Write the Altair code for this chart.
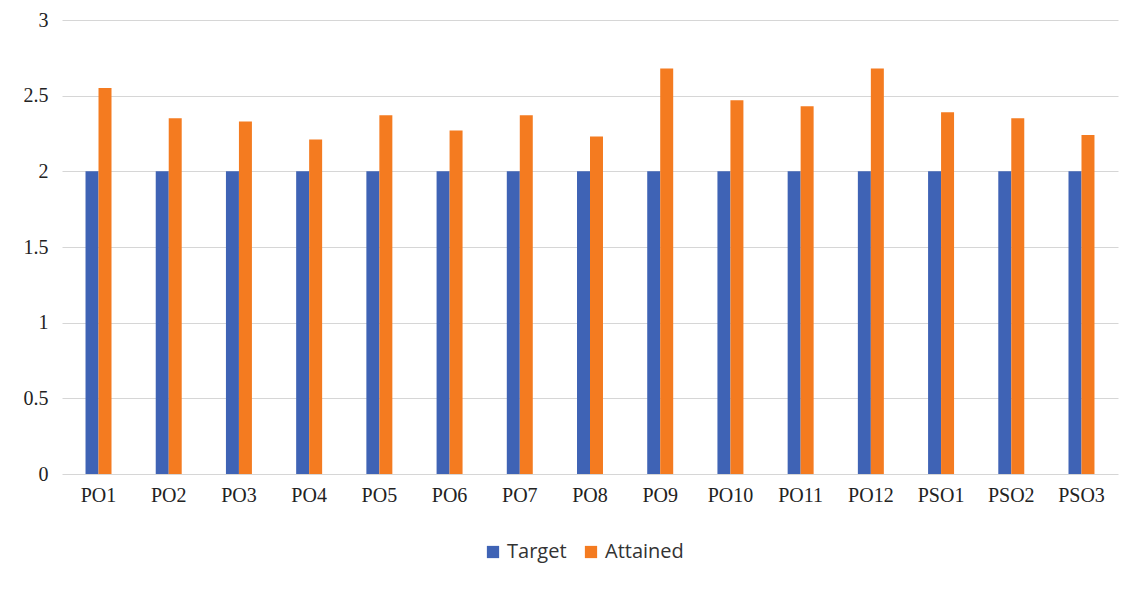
import altair as alt
import pandas as pd

categories = ["PO1", "PO2", "PO3", "PO4", "PO5", "PO6", "PO7", "PO8", "PO9",
              "PO10", "PO11", "PO12", "PSO1", "PSO2", "PSO3"]
target = [2.0] * 15
attained = [2.55, 2.35, 2.33, 2.21, 2.37, 2.27, 2.37, 2.23, 2.68, 2.47, 2.43, 2.68, 2.39, 2.35, 2.24]
series = ["Target", "Attained"]
colors = ["#3F63B5", "#F47B20"]

rows = []
for c, t, a in zip(categories, target, attained):
    rows.append({"cat": c, "series": "Target", "value": t})
    rows.append({"cat": c, "series": "Attained", "value": a})
df = pd.DataFrame(rows)

chart = alt.Chart(df).mark_bar().encode(
    x=alt.X("cat:N", sort=categories, title=None,
            scale=alt.Scale(paddingInner=0.63, paddingOuter=0.335),
            axis=alt.Axis(labelAngle=0, labelFont="Liberation Serif", labelFontSize=20,
                          labelColor="#222222", ticks=False, domain=False, labelPadding=11)),
    xOffset=alt.XOffset("series:N", sort=series),
    y=alt.Y("value:Q", title=None,
            scale=alt.Scale(domain=[0, 3]),
            axis=alt.Axis(values=[0, 0.5, 1, 1.5, 2, 2.5, 3], format="~g",
                          labelFont="Liberation Serif",
                          labelFontSize=20, labelColor="#222222", ticks=False, domain=False,
                          gridColor="#D6D6D6", labelPadding=14)),
    color=alt.Color("series:N", sort=series,
                    scale=alt.Scale(domain=series, range=colors),
                    legend=alt.Legend(title=None, orient="none", legendX=421, legendY=522,
                                      direction="horizontal", symbolType="square",
                                      symbolSize=150, symbolStrokeWidth=0,
                                      labelFont="Open Sans", labelFontSize=20,
                                      labelColor="#333333", columnPadding=14)),
).properties(
    width=1056, height=454,
    autosize=alt.AutoSizeParams(type="none"),
    padding={"left": 54, "top": 12, "right": 5, "bottom": 108},
).configure_view(stroke=None)

chart.save("out.html", embed_options={"renderer": "svg", "actions": False})
